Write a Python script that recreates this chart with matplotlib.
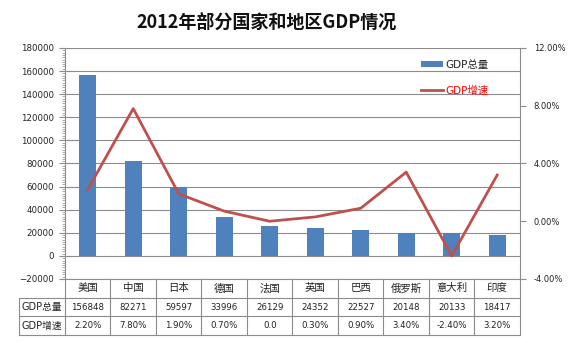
import matplotlib.pyplot as plt
import matplotlib.transforms as mtransforms
from matplotlib.ticker import MultipleLocator, FuncFormatter

plt.rcParams['font.family'] = ['DejaVu Sans', 'Noto Sans CJK SC']

# данные
countries = ['美国', '中国', '日本', '德国', '法国', '英国', '巴西', '俄罗斯', '意大利', '印度']
gdp_total = [156848, 82271, 59597, 33996, 26129, 24352, 22527, 20148, 20133, 18417]
gdp_growth = [2.2, 7.8, 1.9, 0.7, 0.0, 0.3, 0.9, 3.4, -2.4, 3.2]
growth_labels = ['2.20%', '7.80%', '1.90%', '0.70%', '0.0', '0.30%', '0.90%', '3.40%', '-2.40%', '3.20%']
row_names = ['GDP总量', 'GDP增速']

bar_color = '#4F81BD'
line_color = '#C0504D'
grid_color = '#8C8C8C'
text_color = '#222222'

fig = plt.figure(figsize=(5.71, 3.43), dpi=100)
ax = fig.add_axes([0.1138, 0.1866, 0.7968, 0.6735])

x = list(range(len(countries)))
bars = ax.bar(x, gdp_total, width=0.38, color=bar_color, zorder=3, label=row_names[0])
ax.set_xlim(-0.5, len(countries) - 0.5)
ax.set_ylim(-20000, 180000)
ax.yaxis.set_major_locator(MultipleLocator(20000))
ax.yaxis.set_minor_locator(MultipleLocator(2000))
ax.grid(axis='y', which='major', color=grid_color, lw=0.8, zorder=0)
ax.set_xticks([])
ax.tick_params(axis='y', which='major', direction='out', length=4, width=0.8, pad=4,
               labelsize=6.2, color=grid_color, labelcolor=text_color)
ax.tick_params(axis='y', which='minor', direction='out', length=2, width=0.5, color=grid_color)
for side in ['top', 'right', 'bottom']:
    ax.spines[side].set_visible(False)
ax.spines['left'].set_color(grid_color)

# вторая ось - темпы роста
ax2 = ax.twinx()
line, = ax2.plot(x, gdp_growth, color=line_color, lw=2, zorder=4, label=row_names[1])
ax2.set_ylim(-4, 12)
ax2.yaxis.set_major_locator(MultipleLocator(4))
ax2.yaxis.set_major_formatter(FuncFormatter(lambda v, p: f'{v:.2f}%'))
ax2.tick_params(axis='y', direction='out', length=4, width=0.8, pad=6,
                labelsize=6, color=grid_color, labelcolor=text_color)
for side in ['top', 'left', 'bottom']:
    ax2.spines[side].set_visible(False)
ax2.spines['right'].set_color(grid_color)

leg = ax2.legend([bars, line], row_names, loc='upper left', bbox_to_anchor=(0.783, 0.948),
                 frameon=False, fontsize=7.5, borderaxespad=0, borderpad=0,
                 handlelength=2.1, handleheight=0.5, handletextpad=0.2, labelspacing=1.45)
leg.get_texts()[0].set_color(text_color)
leg.get_texts()[1].set_color('red')

# таблица под графиком
rh = 18.7 / 231
left_edge = -0.101
trans = mtransforms.blended_transform_factory(ax.transData, ax.transAxes)
tab_kw = dict(color=grid_color, lw=0.8, clip_on=False, zorder=5)

ax.plot([-0.5, len(countries) - 0.5], [0, 0], transform=trans, **tab_kw)
for k in range(1, 4):
    ax.plot([left_edge, 1], [-k * rh, -k * rh], transform=ax.transAxes, **tab_kw)
for i in range(len(countries) + 1):
    ax.plot([i - 0.5, i - 0.5], [0, -3 * rh], transform=trans, **tab_kw)
ax.plot([left_edge, left_edge], [-rh, -3 * rh], transform=ax.transAxes, **tab_kw)

for i, name in enumerate(countries):
    ax.text(i, -0.5 * rh, name, transform=trans, ha='center', va='center',
            fontsize=7.5, color=text_color)
    ax.text(i, -1.5 * rh, str(gdp_total[i]), transform=trans, ha='center', va='center',
            fontsize=6.2, color=text_color)
    ax.text(i, -2.5 * rh, growth_labels[i], transform=trans, ha='center', va='center',
            fontsize=6.2, color=text_color)
for k, name in enumerate(row_names):
    ax.text(left_edge + 0.006, -(k + 1.5) * rh, name, transform=ax.transAxes,
            ha='left', va='center', fontsize=7, color=text_color)

fig.text(0.466, 0.934, '2012年部分国家和地区GDP情况', ha='center', va='center',
         family=['Noto Sans CJK SC'], fontsize=13, fontweight='bold', color='#111111')

fig.savefig('out.png', dpi=100)
